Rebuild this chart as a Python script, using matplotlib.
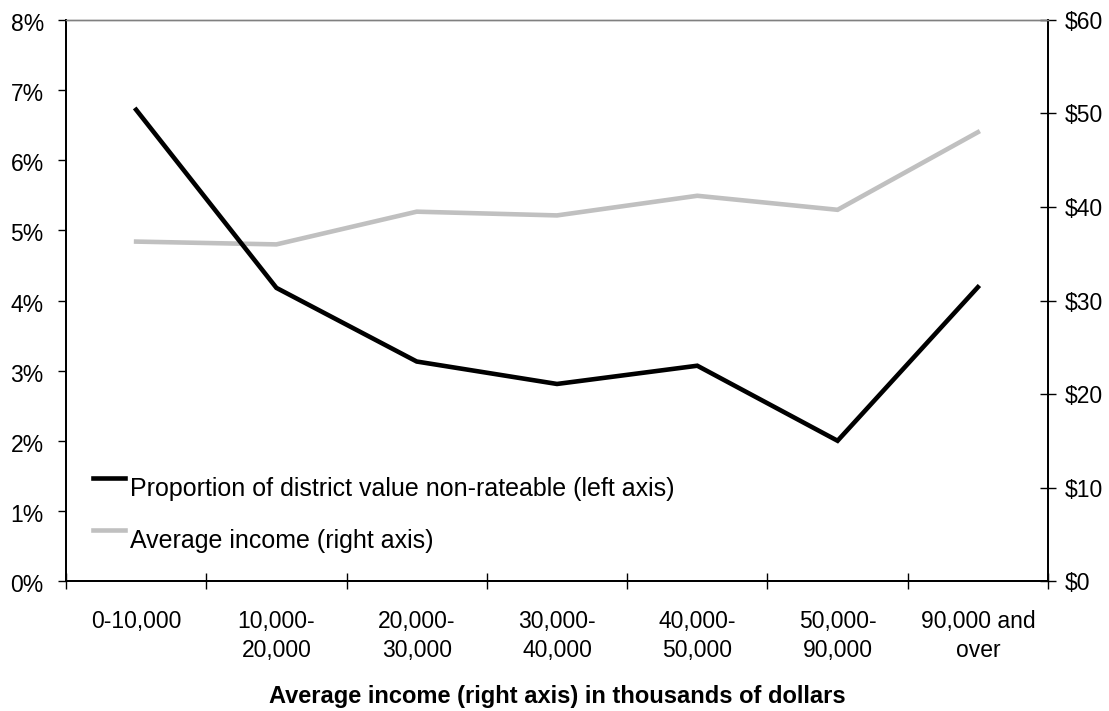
import matplotlib
matplotlib.use("Agg")
import matplotlib.pyplot as plt
import matplotlib.transforms as mtransforms
from matplotlib.legend_handler import HandlerLine2D
import numpy as np

plt.rcParams['font.family'] = ['Liberation Sans', 'DejaVu Sans']

# income bands
categories = ['0-10,000', '10,000-\n20,000', '20,000-\n30,000', '30,000-\n40,000',
              '40,000-\n50,000', '50,000-\n90,000', '90,000 and\nover']
nonrateable_pct = [6.72, 4.18, 3.13, 2.81, 3.07, 2.0, 4.19]   # left axis, %
avg_income = [36.3, 36.0, 39.5, 39.1, 41.2, 39.7, 48.0]       # right axis, $000

x = np.arange(len(categories))


class RaisedLine(HandlerLine2D):
    # legend sample sits near the top of the text, like the original
    def create_artists(self, legend, orig_handle, xdescent, ydescent,
                       width, height, fontsize, trans):
        return super().create_artists(legend, orig_handle, xdescent,
                                      ydescent - 0.75 * fontsize, width, height,
                                      fontsize, trans)


fig = plt.figure(figsize=(11.09, 7.11), dpi=100)
ax = fig.add_axes([0.0595, 0.1828, 0.8855, 0.7891])
ax2 = ax.twinx()

l1, = ax.plot(x, nonrateable_pct, color='black', lw=3.3, solid_joinstyle='miter',
              label='Proportion of district value non-rateable (left axis)')
l2, = ax2.plot(x, avg_income, color='#c0c0c0', lw=3.3, solid_joinstyle='miter',
               label='Average income (right axis)')
ax.set_zorder(ax2.get_zorder() + 1)
ax.patch.set_visible(False)

ax.set_xlim(-0.5, len(categories) - 0.5)
ax.set_ylim(0, 8)
ax2.set_ylim(0, 60)

ax.set_yticks(range(0, 9))
ax.set_yticklabels([f'{v}%' for v in range(0, 9)])
ax2.set_yticks(range(0, 61, 10))
ax2.set_yticklabels([f'${v}' for v in range(0, 61, 10)])

# ticks between categories, labels at centres
ax.set_xticks(np.arange(-0.5, len(categories), 1.0))
ax.set_xticklabels([])
ax.set_xticks(x, minor=True)
ax.set_xticklabels(categories, minor=True, fontsize=16.5, linespacing=1.3)
ax.tick_params(axis='x', which='minor', length=0, pad=21)
ax.tick_params(axis='x', which='major', direction='inout', length=11.5, width=1)
ax.tick_params(axis='y', direction='out', length=6, width=1, labelsize=16.5, pad=10)
ax2.tick_params(axis='y', direction='inout', length=12, width=1, labelsize=16.5, pad=6)

down = mtransforms.ScaledTranslation(0, -2 / 100, fig.dpi_scale_trans)
for lab in ax.get_yticklabels():
    lab.set_transform(lab.get_transform() + down)

for a in (ax, ax2):
    a.spines['top'].set_color('#808080')
    a.spines['top'].set_linewidth(1)
    for s in ('left', 'right', 'bottom'):
        a.spines[s].set_linewidth(1.3)

ax.set_xlabel('Average income (right axis) in thousands of dollars',
              fontsize=17, fontweight='bold', labelpad=17)

ax.legend(handles=[l1, l2], loc='lower left', bbox_to_anchor=(0.0275, 0.05),
          frameon=False, fontsize=18, handlelength=1.3, handletextpad=0.2,
          labelspacing=1.12, borderaxespad=0, borderpad=0,
          handler_map={l1: RaisedLine(), l2: RaisedLine()})

fig.savefig('out.png', dpi=100)
